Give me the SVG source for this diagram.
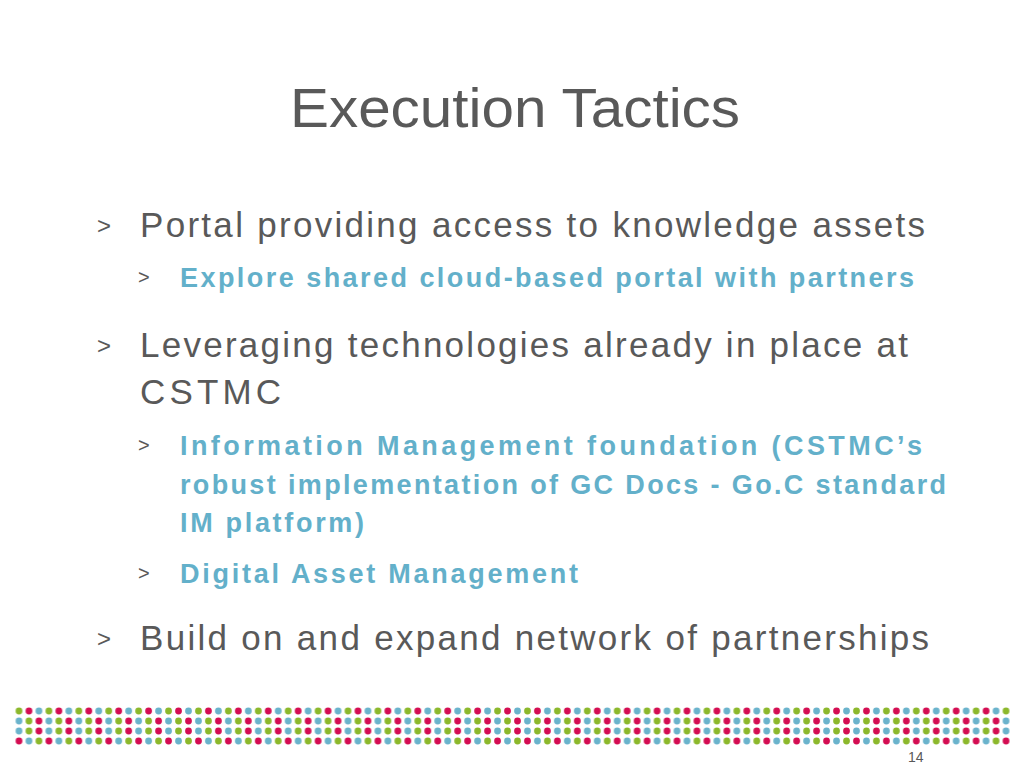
<svg xmlns="http://www.w3.org/2000/svg" width="1024" height="768" viewBox="0 0 1024 768">
<style>
.t{font-family:"Liberation Sans",Arial,sans-serif;fill:#595959}
.l1{font-size:35px}
.l2{font-size:27px;font-weight:bold;fill:#63b0ca}
.b1{font-size:24px}
.b2{font-size:20px}
</style>
<defs>
<pattern id="dots" patternUnits="userSpaceOnUse" x="14.5" y="706" width="29.91" height="40">
<circle cx="4.5" cy="5" r="3.4" fill="#8cb82b"/><circle cx="14.47" cy="5" r="3.4" fill="#d40d52"/><circle cx="24.44" cy="5" r="3.4" fill="#6ab3cc"/>
<circle cx="4.5" cy="15" r="3.4" fill="#6ab3cc"/><circle cx="14.47" cy="15" r="3.4" fill="#8cb82b"/><circle cx="24.44" cy="15" r="3.4" fill="#d40d52"/>
<circle cx="4.5" cy="25" r="3.4" fill="#6ab3cc"/><circle cx="14.47" cy="25" r="3.4" fill="#8cb82b"/><circle cx="24.44" cy="25" r="3.4" fill="#d40d52"/>
<circle cx="4.5" cy="35" r="3.4" fill="#d40d52"/><circle cx="14.47" cy="35" r="3.4" fill="#6ab3cc"/><circle cx="24.44" cy="35" r="3.4" fill="#8cb82b"/>
</pattern>
</defs>
<rect width="1024" height="768" fill="#fff"/>
<rect x="14.5" y="706" width="996" height="40" fill="url(#dots)"/>
<text class="t" x="290" y="127" font-size="56" textLength="450" lengthAdjust="spacingAndGlyphs">Execution Tactics</text>
<g id="b1"><text class="t b1" x="97" y="234">&gt;</text><text class="t l1" x="140" y="237" textLength="785">Portal providing access to knowledge assets</text></g>
<g id="b1a"><text class="t b2" x="138" y="284">&gt;</text><text class="t l2" x="180" y="287" textLength="734">Explore shared cloud-based portal with partners</text></g>
<g id="b2"><text class="t b1" x="97" y="354">&gt;</text><text class="t l1" x="140" y="357" textLength="768">Leveraging technologies already in place at</text><text class="t l1" x="140" y="404" textLength="141">CSTMC</text></g>
<g id="b2a"><text class="t b2" x="138" y="452">&gt;</text><text class="t l2" x="180" y="455" textLength="742">Information Management foundation (CSTMC’s</text><text class="t l2" x="180" y="494" textLength="766">robust implementation of GC Docs - Go.C standard</text><text class="t l2" x="180" y="532" textLength="184">IM platform)</text></g>
<g id="b2b"><text class="t b2" x="138" y="580">&gt;</text><text class="t l2" x="180" y="583" textLength="398">Digital Asset Management</text></g>
<g id="b3"><text class="t b1" x="97" y="647">&gt;</text><text class="t l1" x="140" y="650" textLength="789">Build on and expand network of partnerships</text></g>
<text class="t" x="908" y="762" font-size="14" fill="#333">14</text>
</svg>
